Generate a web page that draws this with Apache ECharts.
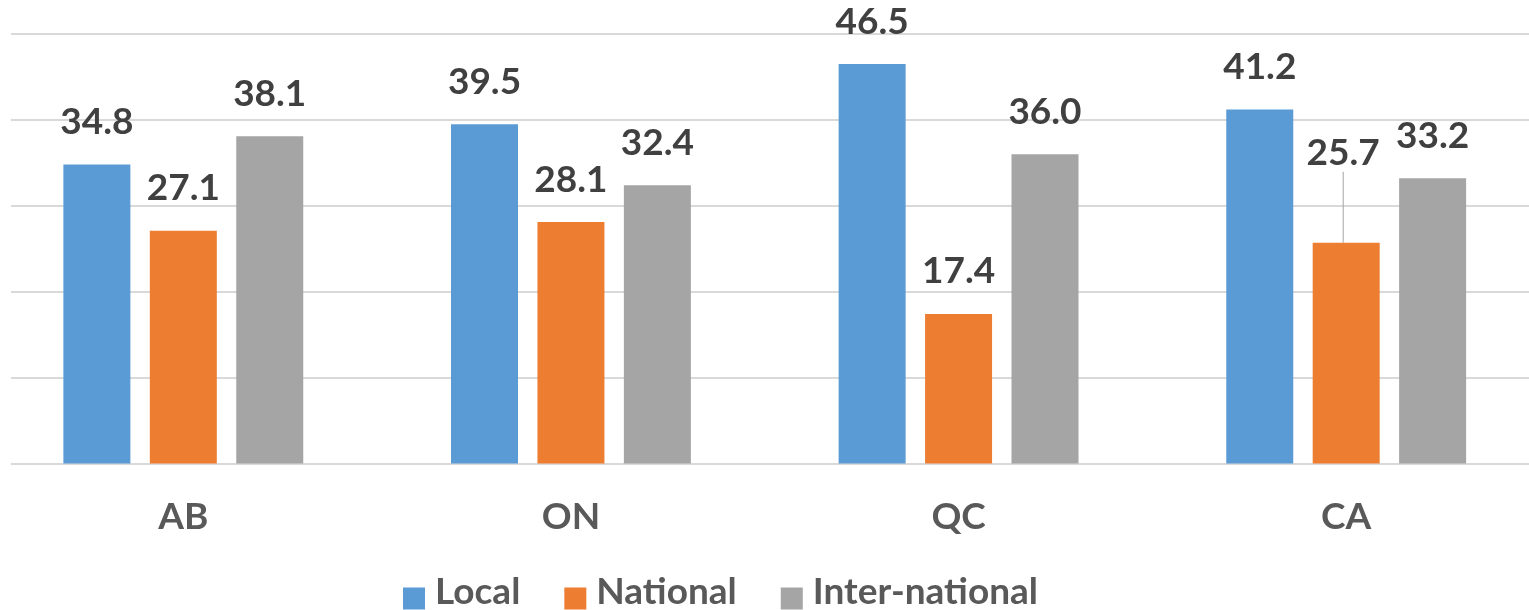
<!DOCTYPE html>
<html>
<head>
<meta charset="utf-8">
<script src="https://cdn.jsdelivr.net/npm/echarts@6/dist/echarts.min.js"></script>
<style>
html,body{margin:0;padding:0;background:#fff;}
#chart{width:1529px;height:610px;}
</style>
</head>
<body>
<div id="chart"></div>
<script>
const categories = ['AB', 'ON', 'QC', 'CA'];
const seriesNames = ['Local', 'National', 'Inter-national'];
const localValues = [34.8, 39.5, 46.5, 41.2];
const nationalValues = [27.1, 28.1, 17.4, 25.7];
const internationalValues = [38.1, 32.4, 36.0, 33.2];
const colors = ['#5B9BD5', '#ED7D31', '#A5A5A5'];

const FONT = 'Lato';
const chart = echarts.init(document.getElementById('chart'));

const labelStyle = {
  show: true,
  position: 'top',
  distance: 24,
  fontFamily: FONT,
  fontWeight: 'bold',
  fontSize: 37,
  color: '#404040',
  formatter: p => p.value.toFixed(1)
};

function makeSeries(name, values, idx) {
  return {
    name: name,
    type: 'bar',
    xAxisIndex: 0,
    yAxisIndex: 0,
    barWidth: 67,
    barGap: '29%',
    itemStyle: { color: colors[idx] },
    label: labelStyle,
    data: values.map((v, i) => {
      if (idx === 1 && i === 3) {
        return { value: v, labelLine: { show: true, lineStyle: { color: '#a6a6a6', width: 1 } } };
      }
      return v;
    }),
    labelLayout: function (params) {
      if (idx === 1 && params.dataIndex === 3) {
        return { dy: -47, dx: -3 };
      }
      return {};
    }
  };
}

chart.setOption({
  animation: false,
  backgroundColor: '#ffffff',
  grid: [
    { left: -10.5, width: 1550.5, top: 34, height: 429.5, outerBoundsMode: 'none', containLabel: false },
    { left: 11, right: 0, top: 34, height: 429.5, outerBoundsMode: 'none', containLabel: false }
  ],
  xAxis: [
    {
      type: 'category',
      gridIndex: 0,
      data: categories,
      axisLine: { show: false },
      axisTick: { show: false },
      axisLabel: {
        margin: 35,
        fontFamily: FONT,
        fontWeight: 'bold',
        fontSize: 37,
        color: '#595959'
      }
    },
    { type: 'value', gridIndex: 1, show: false, min: 0, max: 1 }
  ],
  yAxis: [
    {
      type: 'value', gridIndex: 0, min: 0, max: 50, interval: 10,
      axisLabel: { show: false }, axisLine: { show: false }, axisTick: { show: false },
      splitLine: { show: false }
    },
    {
      type: 'value', gridIndex: 1, min: 0, max: 50, interval: 10,
      axisLabel: { show: false }, axisLine: { show: false }, axisTick: { show: false },
      splitLine: { show: true, lineStyle: { color: '#d9d9d9', width: 2 } }
    }
  ],
  legend: {
    left: 403,
    top: 574,
    padding: 0,
    itemWidth: 22,
    itemHeight: 35,
    itemGap: 44,
    icon: 'path://M0,0 M0,12 L22,12 L22,34 L0,34 Z',
    data: seriesNames,
    textStyle: {
      fontFamily: FONT,
      fontWeight: 'bold',
      fontSize: 37,
      color: '#595959',
      padding: [0, 0, 0, 5]
    }
  },
  series: [
    makeSeries(seriesNames[0], localValues, 0),
    makeSeries(seriesNames[1], nationalValues, 1),
    makeSeries(seriesNames[2], internationalValues, 2)
  ]
});
</script>
</body>
</html>
